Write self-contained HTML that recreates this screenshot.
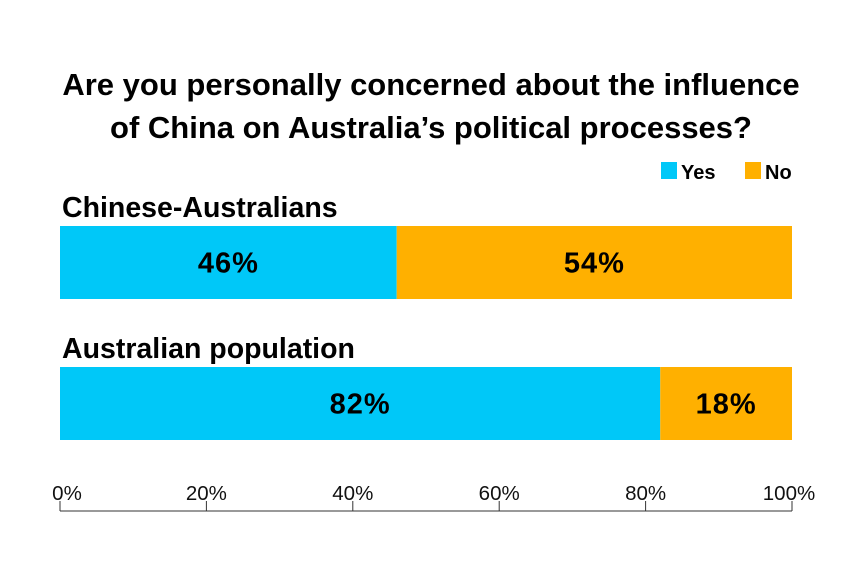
<!DOCTYPE html>
<html><head><meta charset="utf-8"><style>
body{margin:0;background:#fff;}
svg{display:block;font-family:"Liberation Sans",sans-serif;}
</style></head><body>
<svg id="chart" width="862" height="575">
<text x="431" y="95" text-anchor="middle" font-size="31" font-weight="bold" fill="#000">Are you personally concerned about the influence</text>
<text x="431" y="138" text-anchor="middle" font-size="31" font-weight="bold" fill="#000">of China on Australia’s political processes?</text>
<rect x="661" y="162" width="16" height="17" fill="#00C8F8"/>
<text x="681" y="179" font-size="20" font-weight="bold">Yes</text>
<rect x="745" y="162" width="16" height="17" fill="#FFB000"/>
<text x="765" y="179" font-size="20" font-weight="bold">No</text>
<g id="bars"></g>
<g id="axis"></g>
</svg>
<script>
const categories = ["Chinese-Australians", "Australian population"];
const yesValues = [46, 82];
const noValues = [54, 18];
const tickLabels = ["0%", "20%", "40%", "60%", "80%", "100%"];
const tickValues = [0, 20, 40, 60, 80, 100];

const NS = "http://www.w3.org/2000/svg";
const x0 = 60, x1 = 792;
function xScale(v){ return x0 + (x1 - x0) * v / 100; }
function barTop(i){ return 226 + i * 141; }
const barH = 73;
const bars = document.getElementById('bars');
function mk(tag, attrs, parent){
  const e = document.createElementNS(NS, tag);
  for (const k in attrs) e.setAttribute(k, attrs[k]);
  parent.appendChild(e);
  return e;
}
categories.forEach((c, i) => {
  const y = barTop(i);
  const t = mk('text', {x: 62, y: y - 9, 'font-size': 28.5, 'font-weight': 'bold'}, bars);
  t.textContent = c;
  
  
  const yw = xScale(yesValues[i]) - x0;
  const r1 = mk('rect', {x: x0, y: y, width: yw, height: barH, fill: '#00C8F8'}, bars);
  
  
  const nx = xScale(yesValues[i]);
  const r2 = mk('rect', {x: nx, y: y, width: xScale(yesValues[i] + noValues[i]) - nx, height: barH, fill: '#FFB000'}, bars);
  
  
  const l1 = mk('text', {x: x0 + yw / 2, y: y + barH / 2 + 10, 'text-anchor': 'middle', 'font-size': 29, 'font-weight': 'bold', 'letter-spacing': 1}, bars);
  l1.textContent = yesValues[i] + '%';
  
  
  const l2 = mk('text', {x: (nx + xScale(yesValues[i] + noValues[i])) / 2, y: y + barH / 2 + 10, 'text-anchor': 'middle', 'font-size': 29, 'font-weight': 'bold', 'letter-spacing': 1}, bars);
  l2.textContent = noValues[i] + '%';
  
  
});
const axis = document.getElementById('axis');
const line = mk('line', {x1: x0, x2: x1, y1: 511, y2: 511, stroke: '#333', 'stroke-width': 1}, axis);


tickValues.forEach((v, i) => {
  const x = xScale(v);
  const tk = mk('line', {x1: x, x2: x, y1: 501, y2: 511, stroke: '#333', 'stroke-width': 1}, axis);
  
  
  const off = i === 0 ? 7 : (i === tickValues.length - 1 ? -3 : 0);
  const tl = mk('text', {x: x + off, y: 500, 'text-anchor': 'middle', 'font-size': 20.5, fill: '#111'}, axis);
  tl.textContent = tickLabels[i];
  
  
});
</script>
</body></html>
